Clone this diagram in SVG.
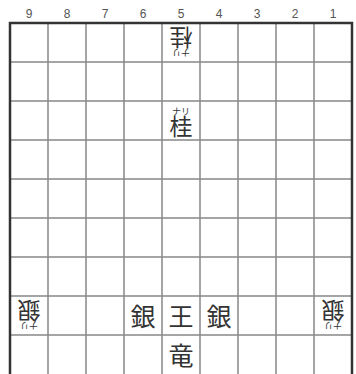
<svg xmlns="http://www.w3.org/2000/svg" xmlns:xlink="http://www.w3.org/1999/xlink" width="356" height="374" viewBox="0 0 356 374">
<style>
.num{font-family:"Liberation Sans",Arial,sans-serif;font-size:12px;fill:#555;text-anchor:middle}
.pc{font-family:"Noto Sans CJK JP","Noto Sans CJK SC",sans-serif;font-size:25px;fill:#333;text-anchor:middle}
.sm{font-family:"Noto Sans CJK JP","Noto Sans CJK SC",sans-serif;font-size:9px;fill:#333;text-anchor:middle}
.pm{font-family:"Noto Sans CJK JP","Noto Sans CJK SC",sans-serif;font-size:23px;fill:#333;text-anchor:middle}
.grid{stroke:#888;stroke-width:1.5;fill:none}
.border{stroke:#333;stroke-width:2.5;fill:none}
</style>
<defs>
<g id="narikei"><text class="sm" x="0" y="-6">ナリ</text><text class="pm" x="0" y="14">桂</text></g>
<g id="narigin"><text class="sm" x="0" y="-6">ナリ</text><text class="pm" x="0" y="14">銀</text></g>
</defs>
<rect width="356" height="374" fill="#fff"/>
<g id="labels">
<text class="num" x="29" y="18">9</text>
<text class="num" x="67" y="18">8</text>
<text class="num" x="105" y="18">7</text>
<text class="num" x="143" y="18">6</text>
<text class="num" x="181" y="18">5</text>
<text class="num" x="219" y="18">4</text>
<text class="num" x="257" y="18">3</text>
<text class="num" x="295" y="18">2</text>
<text class="num" x="333" y="18">1</text>
</g>
<g id="board">
<path class="grid" d="M48 23V376M86 23V376M124 23V376M162 23V376M200 23V376M238 23V376M276 23V376M314 23V376M10 62H352M10 101H352M10 140H352M10 179H352M10 218H352M10 257H352M10 296H352M10 335H352"/>
<path class="border" d="M10 380V23H352V380"/>
</g>
<g id="p51"><use xlink:href="#narikei" transform="translate(181,42.5) rotate(180)"/></g>
<g id="p53"><use xlink:href="#narikei" transform="translate(181,120.5)"/></g>
<g id="p98"><use xlink:href="#narigin" transform="translate(29,315.5) rotate(180)"/></g>
<g id="p18"><use xlink:href="#narigin" transform="translate(333,315.5) rotate(180)"/></g>
<g id="p68"><text class="pc" x="143" y="326">銀</text></g>
<g id="p58"><text class="pc" x="181" y="326">王</text></g>
<g id="p48"><text class="pc" x="219" y="326">銀</text></g>
<g id="p59"><text class="pc" x="181" y="365">竜</text></g>
</svg>
